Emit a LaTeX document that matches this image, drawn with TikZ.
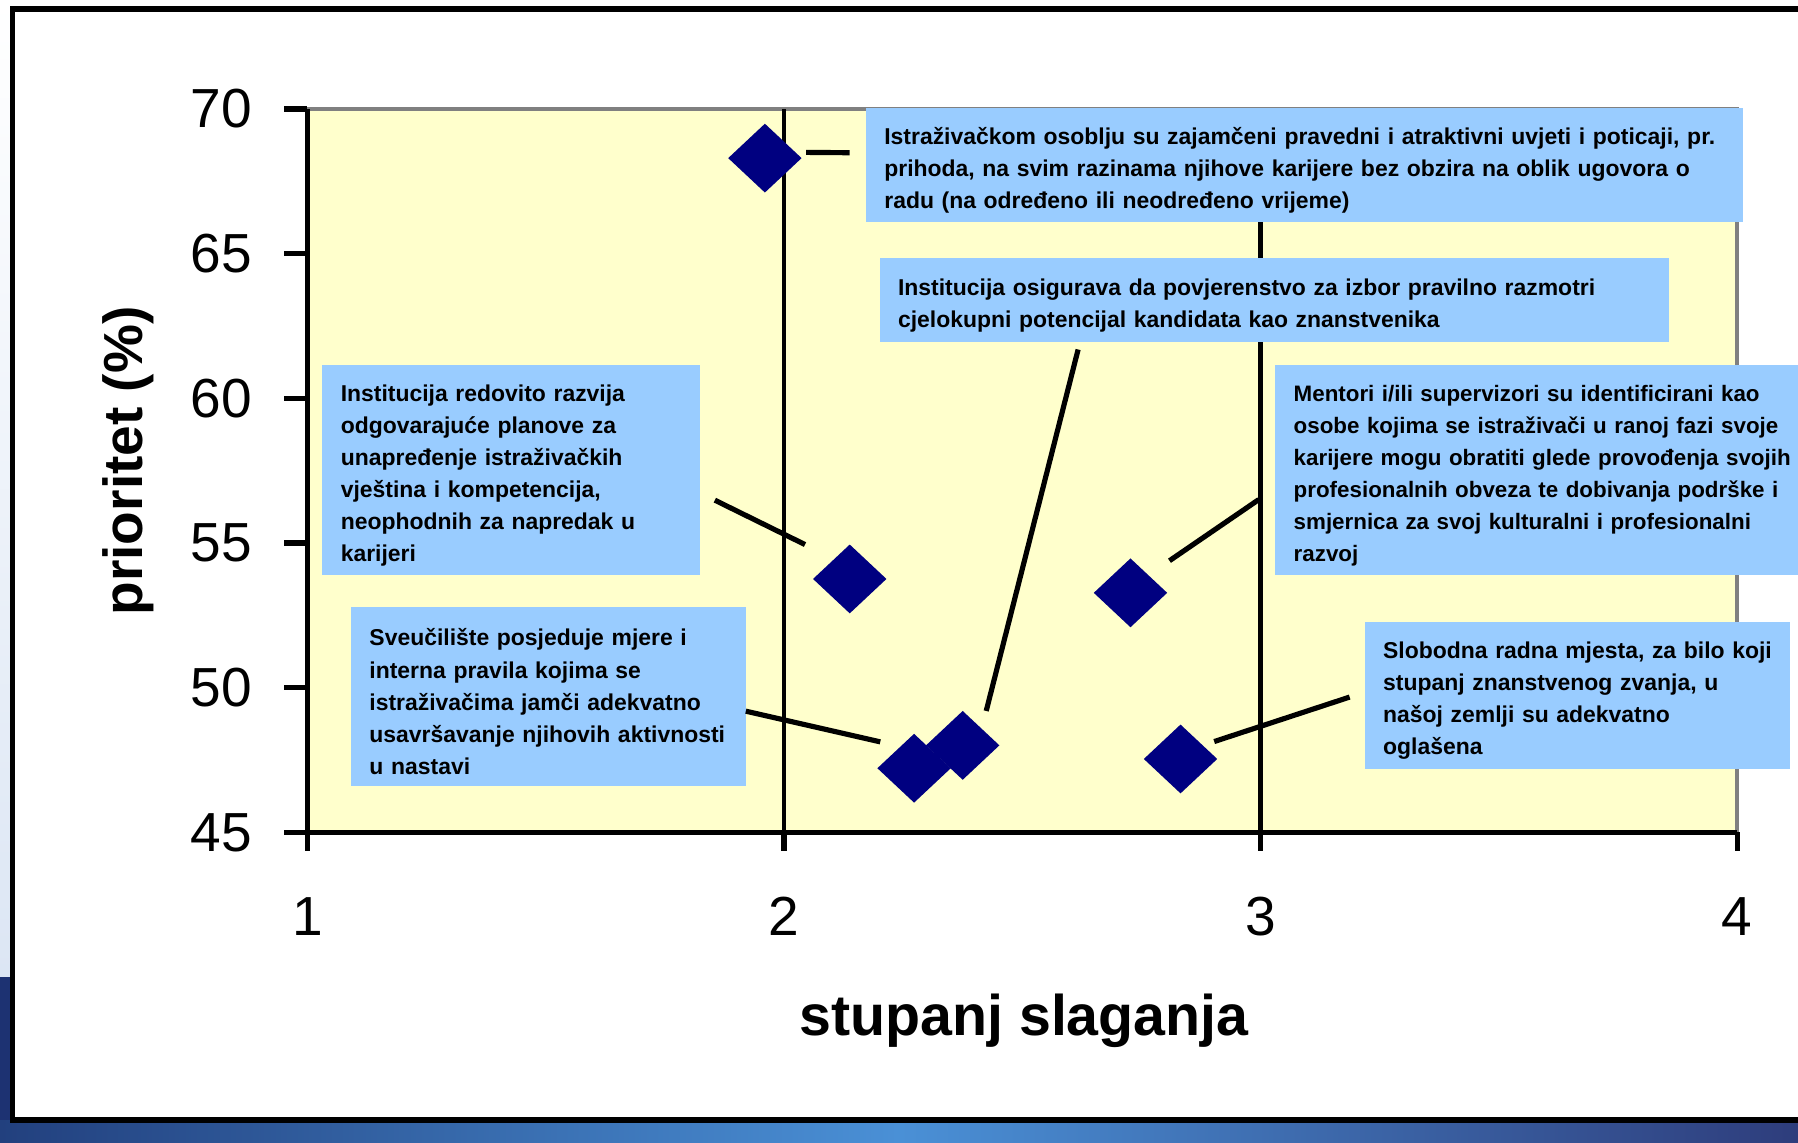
\documentclass[tikz,border=0pt]{standalone}
\usepackage{fontspec}
\setmainfont{Liberation Sans}
\usetikzlibrary{shapes.geometric}

\definecolor{plotbg}{HTML}{FFFFCC}
\definecolor{callblue}{HTML}{99CCFF}
\definecolor{navypt}{HTML}{000080}
\definecolor{leftpale}{HTML}{DCE6F4}
\definecolor{slidenavy}{HTML}{1D3272}
\definecolor{slidedark}{HTML}{22407E}
\definecolor{slidemid}{HTML}{4A90D6}
\definecolor{slideright}{HTML}{2E3D7C}

\begin{document}
\begin{tikzpicture}[x=1pt,y=1pt,
  axis/.style={line width=4.5pt},
  gridline/.style={line width=4pt},
  leader/.style={line width=4.5pt},
  point/.style={diamond, fill=navypt, minimum width=64pt, minimum height=60pt, inner sep=0pt, outer sep=0pt},
  callout/.style={fill=callblue, anchor=north west, align=left, inner xsep=16pt, inner ysep=0pt,
    font=\bfseries\fontsize{20}{28}\selectfont, execute at begin node=\rule{0pt}{24.5pt}},
  ticklbl/.style={inner sep=0pt, font=\fontsize{48}{56}\selectfont},
  axtitle/.style={inner sep=0pt, font=\bfseries\fontsize{50}{60}\selectfont}]

\useasboundingbox (0,0) rectangle (1568,996);

% slide behind the chart
\shade[top color=white, bottom color=leftpale] (0,144) rectangle (11,996);
\fill[slidenavy] (0,0) rectangle (11,144);
\shade[left color=slidedark, right color=slideright, middle color=slidemid] (0,0) rectangle (1568,19);

% frame
\draw[line width=5pt, fill=white] (11,19) rectangle (1600,988);

% plot area in data units
\begin{scope}[shift={(-147.67,-865.8)}, x=415.67pt, y=25.24pt]
\fill[plotbg] (1,45) rectangle (4,70);
\draw[gray, line width=3.5pt] (1,70) -- (4,70) -- (4,45);
\foreach \x in {2,3}
  \draw[gridline] (\x,45) -- (\x,70);
\draw[axis] (1,70) -- (1,45) -- (4,45);

% ticks
\foreach \y in {45,50,...,70}{
  \draw[axis] ([xshift=-20pt]1,\y) -- (1,\y);
  \node[ticklbl, anchor=east] (ylab\y) at ([xshift=-48pt]1,\y) {\y};
}
\foreach \x in {1,...,4}{
  \draw[axis] (\x,45) -- ([yshift=-16pt]\x,45);
  \node[ticklbl] (xlab\x) at ([yshift=-73pt]\x,45) {\x};
}

% points
\node[point] (p1) at (1.960,68.30) {};
\node[point] (p2) at (2.138,53.76) {};
\node[point] (p3) at (2.273,47.22) {};
\node[point] (p4) at (2.375,48.01) {};
\node[point] (p5) at (2.727,53.28) {};
\node[point] (p6) at (2.832,47.54) {};
\end{scope}

% axis titles
\node[axtitle] (xtitle) at (893,106) {stupanj slaganja};
\node[axtitle, font=\bfseries\fontsize{48}{58}\selectfont, rotate=90] (ytitle) at (112,594) {prioritet (\%)};

% labels
\node[callout, text width=733pt, minimum height=99pt] (boxA) at (755,902)
  {Istraživačkom osoblju su zajamčeni pravedni i atraktivni uvjeti i poticaji, pr.\\
   prihoda, na svim razinama njihove karijere bez obzira na oblik ugovora o\\
   radu (na određeno ili neodređeno vrijeme)};
\node[callout, text width=656pt, minimum height=73pt] (boxB) at (767,771)
  {Institucija osigurava da povjerenstvo za izbor pravilno razmotri\\
   cjelokupni potencijal kandidata kao znanstvenika};
\node[callout, text width=297pt, minimum height=183pt] (boxC) at (281,678)
  {Institucija redovito razvija\\ odgovarajuće planove za\\ unapređenje istraživačkih\\
   vještina i kompetencija,\\ neophodnih za napredak u\\ karijeri};
\node[callout, text width=468pt, minimum height=183pt,
  font=\bfseries\fontsize{19.5}{28}\selectfont] (boxD) at (1112,678)
  {Mentori i/ili supervizori su identificirani kao\\
   osobe kojima se istraživači u ranoj fazi svoje\\
   karijere mogu obratiti glede provođenja svojih\\
   profesionalnih obveza te dobivanja podrške i\\
   smjernica za svoj kulturalni i profesionalni\\ razvoj};
\node[callout, text width=312pt, minimum height=156pt] (boxE) at (306,467)
  {Sveučilište posjeduje mjere i\\ interna pravila kojima se\\ istraživačima jamči adekvatno\\
   usavršavanje njihovih aktivnosti\\ u nastavi};
\node[callout, text width=339pt, minimum height=128pt] (boxF) at (1190,454)
  {Slobodna radna mjesta, za bilo koji\\ stupanj znanstvenog zvanja, u\\
   našoj zemlji su adekvatno\\ oglašena};

% leader lines
\draw[leader] ([shift={(36,5)}]p1.center) -- ([shift={(-14,10.5)}]boxA.west);
\draw[leader] ([shift={(13,-26.5)}]boxC.east) -- ([shift={(-39,30)}]p2.center);
\draw[leader] ([shift={(0,-13)}]boxE.east) -- ([shift={(-29.5,23)}]p3.center);
\draw[leader] ([shift={(-171,-6.4)}]boxB.south) -- ([shift={(20.5,30)}]p4.center);
\draw[leader] ([shift={(-14.3,-26)}]boxD.west) -- ([shift={(34,28)}]p5.center);
\draw[leader] ([shift={(-13,-1.7)}]boxF.west) -- ([shift={(29.4,15.2)}]p6.center);

\end{tikzpicture}
\end{document}
